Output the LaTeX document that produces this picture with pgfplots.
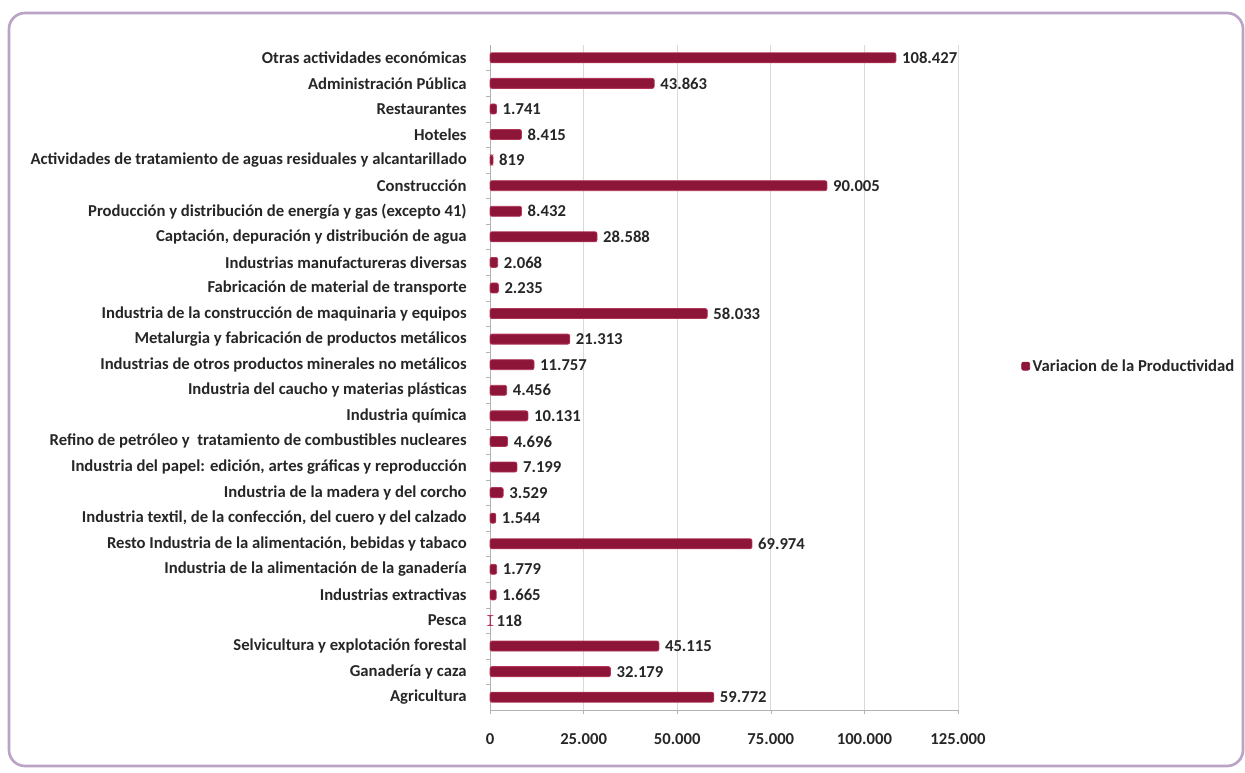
\documentclass[border=0pt]{standalone}
\usepackage{pgfplots}
\pgfplotsset{compat=1.18}
\usepackage{fontspec}
\setmainfont{Carlito}
\definecolor{barred}{HTML}{8C1538}
\definecolor{baredge}{HTML}{B23557}
\definecolor{frame}{HTML}{B9A4C6}
\definecolor{txt}{HTML}{262626}
\newcommand\lblfont{\fontsize{12.5}{14}\selectfont\bfseries}
\begin{document}
\begin{tikzpicture}
\path[use as bounding box] (0pt,0pt) rectangle (933.75pt,579pt);
\draw[frame, line width=2pt, rounded corners=12pt] (6.75pt,4.5pt) rectangle (932.25pt,569.25pt);
\begin{axis}[
  at={(367.5pt,46.5pt)}, anchor=south west,
  scale only axis, width=351pt, height=498.75pt,
  xmin=0, xmax=125000, ymin=-0.5, ymax=25.5,
  xbar, bar width=7.5pt,
  axis line style={draw=black!30},
  axis x line*=bottom, axis y line*=left,
  xmajorgrids, grid style={draw=black!15, line width=0.6pt},
  xtick={0,25000,50000,75000,100000,125000},
  scaled x ticks=false,
  /pgf/number format/.cd, fixed, precision=0, 1000 sep={.}, assume math mode=true,
  /pgfplots/.cd,
  xticklabel style={font=\lblfont, text=txt, yshift=-11pt},
  ytick={0,...,25},
  minor y tick num=1,
  major tick length=3pt, minor tick length=3pt,
  tick style={draw=black!30},
  every major y tick/.append style={draw=none},
  tick align=outside,
  yticklabel style={font=\lblfont, text=txt, anchor=east, xshift=-11pt},
  yticklabels={{Agricultura},{Ganadería y caza},{Selvicultura y explotación forestal\ },{Pesca},{Industrias extractivas},{Industria de la alimentación de la ganadería},{Resto Industria de la alimentación, bebidas y tabaco},{Industria textil, de la confección, del cuero y del calzado\ },{Industria de la madera y del corcho},{Industria del papel: edición, artes gráficas y reproducción},{Refino de petróleo y\ \ tratamiento de combustibles nucleares},{Industria química},{Industria del caucho y materias plásticas},{Industrias de otros productos minerales no metálicos},{Metalurgia y fabricación de productos metálicos},{Industria de la construcción de maquinaria y equipos},{Fabricación de material de transporte},{Industrias manufactureras diversas},{Captación, depuración y distribución de agua},{Producción y distribución de energía y gas (excepto 41)},{Construcción},{Actividades de tratamiento de aguas residuales y alcantarillado},{Hoteles},{Restaurantes},{Administración Pública},{Otras actividades económicas\ }},
  nodes near coords,
  nodes near coords style={font=\lblfont, text=txt, anchor=west, xshift=1pt},
  legend style={at={(1.1346,0.517)}, anchor=west, draw=none, fill=none, font=\lblfont, text=txt, inner sep=0pt},
  legend image code/.code={\fill[barred] (0pt,-3pt) rectangle (6pt,3pt);},
  clip=false,
]
\addplot[fill=barred, draw=baredge, line width=0.6pt, rounded corners=1.5pt] coordinates {
(59772,0) (32179,1) (45115,2) (118,3) (1665,4) (1779,5) (69974,6) (1544,7) (3529,8) (7199,9) (4696,10) (10131,11) (4456,12) (11757,13) (21313,14) (58033,15) (2235,16) (2068,17) (28588,18) (8432,19) (90005,20) (819,21) (8415,22) (1741,23) (43863,24) (108427,25)
};
\addlegendentry{Variacion de la Productividad}
\end{axis}
\end{tikzpicture}
\end{document}
